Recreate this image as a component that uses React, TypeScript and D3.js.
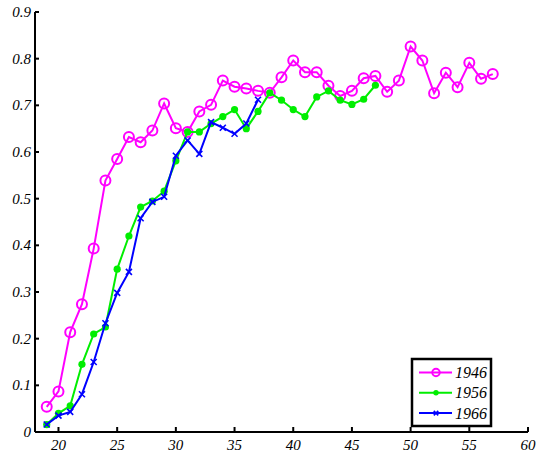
import React from "react";
import * as d3 from "d3";

// ages on the x axis
const ages1946 = d3.range(19, 58);
const ages1956 = d3.range(19, 48);
const ages1966 = d3.range(19, 38);

const values1946 = [
    0.054, 0.087, 0.214, 0.274, 0.393, 0.539, 0.585, 0.632, 0.621, 0.646,
    0.704, 0.651, 0.643, 0.687, 0.701, 0.753, 0.74, 0.736, 0.731, 0.727,
    0.76, 0.796, 0.771, 0.771, 0.742, 0.72, 0.731, 0.758, 0.763, 0.729,
    0.753, 0.826, 0.796, 0.726, 0.77, 0.739, 0.791, 0.757, 0.767,
];

const values1956 = [
    0.016, 0.04, 0.056, 0.145, 0.21, 0.225, 0.349, 0.42, 0.482, 0.495,
    0.516, 0.581, 0.643, 0.643, 0.661, 0.676, 0.691, 0.65, 0.687, 0.727,
    0.711, 0.691, 0.676, 0.718, 0.731, 0.711, 0.702, 0.713, 0.743,
];

const values1966 = [
    0.016, 0.035, 0.043, 0.081, 0.15, 0.233, 0.298, 0.343, 0.458, 0.493,
    0.504, 0.592, 0.625, 0.596, 0.664, 0.652, 0.639, 0.661, 0.712,
];

const xTicks = [20, 25, 30, 35, 40, 45, 50, 55, 60];
const yTicks = [0, 0.1, 0.2, 0.3, 0.4, 0.5, 0.6, 0.7, 0.8, 0.9];
const yTickLabels = ["0", "0.1", "0.2", "0.3", "0.4", "0.5", "0.6", "0.7", "0.8", "0.9"];

const seriesNames = ["1946", "1956", "1966"];
const seriesColors = ["#ff00ff", "#00ee00", "#0000ff"];

const font = "'Liberation Serif', 'Times New Roman', serif";

type Pt = { x: number; y: number };

const Marker = ({ kind, x, y, color, scale = 1 }: { kind: number; x: number; y: number; color: string; scale?: number }) => {
    if (kind === 0) {
        return <circle cx={x} cy={y} r={5 * scale} fill="none" stroke={color} strokeWidth={2} />;
    }
    if (kind === 1) {
        return <circle cx={x} cy={y} r={3.6 * scale} fill={color} />;
    }
    const s = 3 * scale;
    return (
        <g stroke={color} strokeWidth={1.6}>
            <line x1={x - s} y1={y - s} x2={x + s} y2={y + s} />
            <line x1={x - s} y1={y + s} x2={x + s} y2={y - s} />
        </g>
    );
};

export default function App() {
    const width = 538;
    const height = 459;

    // x: 18..60, y: 0..0.9
    const xScale = d3.scaleLinear().domain([18, 60]).range([35, 528]);
    const yScale = d3.scaleLinear().domain([0, 0.9]).range([432, 12]);

    const line = d3
        .line<Pt>()
        .x((d) => xScale(d.x))
        .y((d) => yScale(d.y));

    const series = [
        ages1946.map((a, i) => ({ x: a, y: values1946[i] })),
        ages1956.map((a, i) => ({ x: a, y: values1956[i] })),
        ages1966.map((a, i) => ({ x: a, y: values1966[i] })),
    ];

    const x0 = xScale.range()[0];
    const x1 = xScale.range()[1];
    const y0 = yScale.range()[0];
    const y1 = yScale.range()[1];

    // legend box
    const lg = { x: 412, y: 359, w: 79, h: 67 };

    return (
        <svg
            width={width}
            height={height}
            style={{ position: "absolute", left: 0, top: 0, background: "#fff" }}
        >
            {series.map((pts, k) => (
                <g key={k}>
                    <path d={line(pts) || ""} fill="none" stroke={seriesColors[k]} strokeWidth={2} />
                    {pts.map((p, i) => (
                        <Marker key={i} kind={k} x={xScale(p.x)} y={yScale(p.y)} color={seriesColors[k]} />
                    ))}
                </g>
            ))}

            {/* axes */}
            <g stroke="#000" strokeWidth={2} fill="none">
                <line x1={x0} y1={y0} x2={x0} y2={y1} />
                <line x1={x0} y1={y0} x2={x1} y2={y0} />
                {yTicks.map((t) => (
                    <line key={t} x1={x0} x2={x0 + 4} y1={yScale(t)} y2={yScale(t)} />
                ))}
                {xTicks.map((t) => (
                    <line key={t} x1={xScale(t)} x2={xScale(t)} y1={y0} y2={y0 - 5} />
                ))}
            </g>
            <g fontFamily={font} fontStyle="italic" fontSize={15} fill="#000">
                {yTicks.map((t, i) => (
                    <text key={t} x={x0 - 4} y={yScale(t) + 5} textAnchor="end">
                        {yTickLabels[i]}
                    </text>
                ))}
                {xTicks.map((t) => (
                    <text key={t} x={xScale(t)} y={y0 + 18} textAnchor="middle">
                        {t}
                    </text>
                ))}
            </g>

            {/* legend */}
            <rect x={lg.x} y={lg.y} width={lg.w} height={lg.h} fill="#fff" stroke="#000" strokeWidth={2.5} />
            {seriesNames.map((name, k) => {
                const yy = lg.y + 13.5 + k * 20.3;
                return (
                    <g key={name}>
                        <line x1={lg.x + 7} x2={lg.x + 40} y1={yy} y2={yy} stroke={seriesColors[k]} strokeWidth={2} />
                        <Marker kind={k} x={lg.x + 24} y={yy} color={seriesColors[k]} scale={0.75} />
                        <text x={lg.x + 43} y={yy + 5.5} fontFamily={font} fontStyle="italic" fontSize={16}>
                            {name}
                        </text>
                    </g>
                );
            })}
        </svg>
    );
}
